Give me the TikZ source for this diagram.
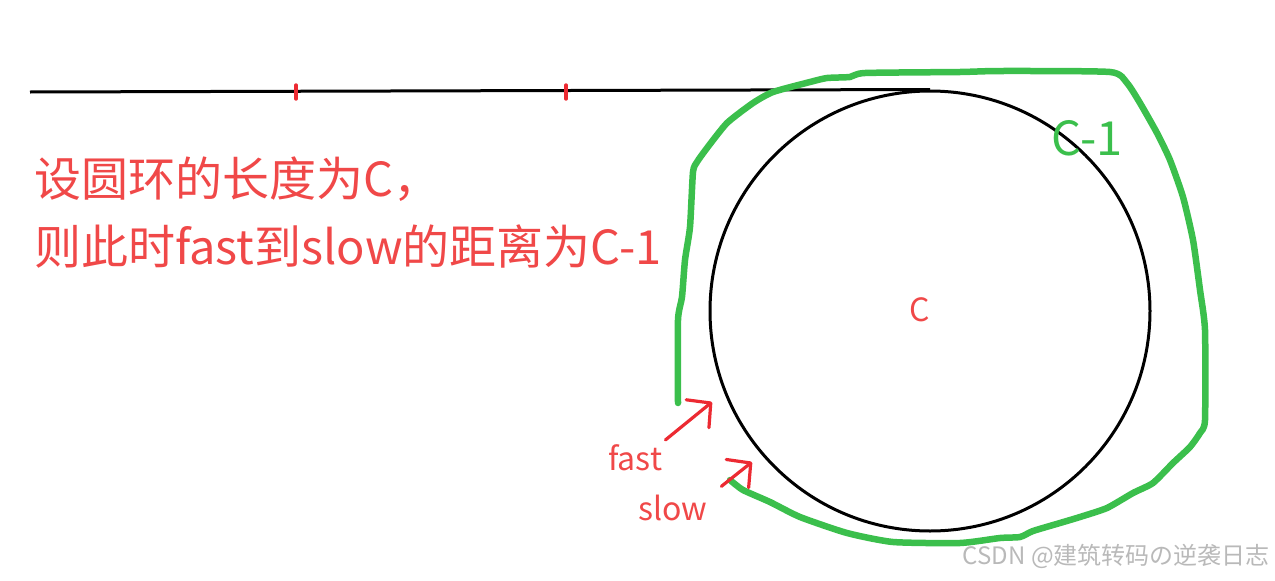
\documentclass[tikz,border=0pt]{standalone}
\usepackage{fontspec}
\setmainfont{Noto Sans CJK SC}
\usetikzlibrary{arrows.meta}
\definecolor{notered}{HTML}{F04848}
\definecolor{pengreen}{HTML}{3BBF4C}
\definecolor{penred}{HTML}{EC2A32}
\tikzstyle{track} = [draw, line width=3pt, black]
\tikzstyle{tickmark} = [draw, line width=3.4pt, penred, line cap=round]
\tikzstyle{pen} = [draw, line width=6.5pt, pengreen, line cap=round, line join=round]
\tikzstyle{pointer} = [draw, line width=3.2pt, penred, line cap=round, -{Straight Barb[length=17pt, width=36pt, round]}]
\tikzstyle{note} = [text=notered, inner sep=0pt]
\newcommand{\bigtext}{\fontsize{47}{47}\selectfont}
\newcommand{\midtext}{\fontsize{32}{32}\selectfont}

\begin{document}
\begin{tikzpicture}[x=1pt, y=-1pt]
\useasboundingbox (0,0) rectangle (1275,581);

% The loop and the straight part

\node[circle, draw, line width=3pt, minimum size=440pt, inner sep=0pt] (loop) at (930,311) {};

\draw[track] (30,92) -- (loop.north);

\foreach \x in {296,566} \draw[tickmark] (\x,85) -- (\x,99);

% Notes

\node[note, anchor=base west, font=\bigtext] (line1) at (34,196) {设圆环的长度为C，};

\node[note, anchor=base west, font=\bigtext] (line2) at (34,264) {则此时fast到slow的距离为C-1};

\node[note, font=\midtext] (size) at (920,310) {C};

\node[inner sep=0pt, text=pengreen, font=\bigtext] (rest) at (1087,138) {C-1};

\node[note, anchor=base west, font=\midtext] (fast) at (608,470) {fast};

\node[note, anchor=base west, font=\midtext] (slow) at (638,520) {slow};

\node[inner sep=0pt, text=gray!55, font=\fontsize{24}{24}\selectfont, anchor=base east] (credit) at (1270,564) {CSDN @建筑转码の逆袭日志};

% Green way round

\draw[pen] plot[smooth, tension=0.35] coordinates {(678,403) (678,320) (682,297) (685,260) (690,227) (693,172) (697,162) (707,148) (727,123) (753,103) (773,92) (810,82) (827,78) (850,77) (865,73) (960,72) (1000,71) (1110,72) (1127,83) (1140,103) (1157,133) (1170,160) (1183,197) (1193,240) (1200,290) (1205,330) (1205,420) (1200,433) (1190,447) (1173,463) (1153,483) (1133,493) (1107,508) (1080,517) (1060,523) (1033,531) (1020,537) (1000,538) (960,543) (893,542) (847,533) (800,517) (770,502) (743,490) (730,480)};

% Pointers

\coordinate (fasttip) at (712,402);
\coordinate (slowtip) at (752,462);

\draw[pointer] ([shift={(3,-4)}]fast.north east) -- (fasttip);
\draw[pointer] ([shift={(14,-8)}]slow.north east) -- (slowtip);

\end{tikzpicture}
\end{document}
